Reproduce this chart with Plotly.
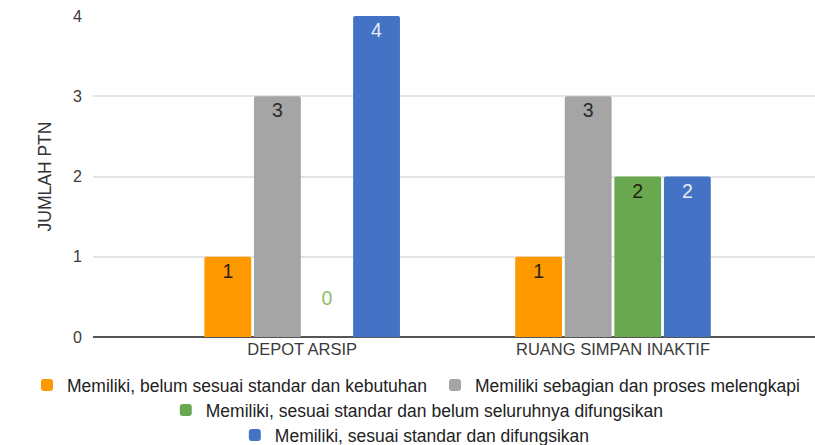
import plotly.graph_objects as go

categories = ["DEPOT ARSIP", "RUANG SIMPAN INAKTIF"]
series_names = [
    "Memiliki, belum sesuai standar dan kebutuhan",
    "Memiliki sebagian dan proses melengkapi",
    "Memiliki, sesuai standar dan belum seluruhnya difungsikan",
    "Memiliki, sesuai standar dan difungsikan",
]
belum_sesuai = [1, 1]
sebagian = [3, 3]
sesuai_belum = [0, 2]
sesuai_difungsikan = [4, 2]
y_ticks = [0, 1, 2, 3, 4]

colors = ["#FF9900", "#A5A5A5", "#6AA84F", "#4472C4"]
text_colors = ["#2e2008", "#2b2b2b", "#1a2410", "#e8ecf5"]
legends = ["legend", "legend4", "legend2", "legend3"]
values = [belum_sesuai, sebagian, sesuai_belum, sesuai_difungsikan]

FONT = "Liberation Sans, Arial, sans-serif"

fig = go.Figure()
for name, vals, col, tcol, lg in zip(series_names, values, colors, text_colors, legends):
    positions = ["inside" if v > 0 else "outside" for v in vals]
    tcolors = [tcol if v > 0 else "#8cc26a" for v in vals]
    labels = [str(v) if v > 0 else f"{v}<br> " for v in vals]
    fig.add_trace(go.Bar(
        name=name, x=categories, y=vals,
        marker=dict(color=col, line=dict(width=0), cornerradius=2),
        text=labels, textposition=positions,
        insidetextanchor="end", constraintext="none",
        textfont=dict(family=FONT, size=19.5, color=tcolors),
        outsidetextfont=dict(family=FONT, size=19.5, color=tcolors),
        insidetextfont=dict(family=FONT, size=19.5, color=tcolors),
        cliponaxis=False,
        legend=lg,
    ))

leg_common = dict(orientation="h", xref="container", yref="container",
                  yanchor="middle", bgcolor="rgba(0,0,0,0)",
                  font=dict(family=FONT, size=17.5, color="#222222"),
                  itemwidth=30, traceorder="normal")

fig.update_layout(
    width=815, height=445,
    margin=dict(l=93, r=0, t=16, b=108),
    paper_bgcolor="white", plot_bgcolor="white",
    barmode="group", bargap=0.362, bargroupgap=0.055,
    font=dict(family=FONT, size=16, color="#444444"),
    xaxis=dict(
        type="category", range=[-0.673, 1.65],
        showgrid=False, showline=False, ticks="",
        tickfont=dict(family=FONT, size=16.5, color="#3a3a3a"),
    ),
    yaxis=dict(
        range=[0, 4], tickvals=y_ticks,
        showgrid=True, gridcolor="#e4e4e4", gridwidth=1.5,
        zeroline=True, zerolinecolor="#555555", zerolinewidth=1.5,
        showline=False, ticks="", ticklabelstandoff=10,
        tickfont=dict(family=FONT, size=16, color="#3a3a3a"),
        title=dict(text="JUMLAH PTN", standoff=16,
                   font=dict(family=FONT, size=17.5, color="#333333")),
    ),
    legend=dict(x=27 / 815, xanchor="left", y=1 - 385 / 445, **leg_common),
    legend4=dict(x=435 / 815, xanchor="left", y=1 - 385 / 445, **leg_common),
    legend2=dict(x=0.512, xanchor="center", y=1 - 410 / 445, **leg_common),
    legend3=dict(x=0.509, xanchor="center", y=1 - 435 / 445, **leg_common),
    showlegend=True,
)

fig.write_html(
    "out.html",
    config={"displayModeBar": False},
    post_script="document.body.style.margin='0';document.body.style.padding='0';",
)
